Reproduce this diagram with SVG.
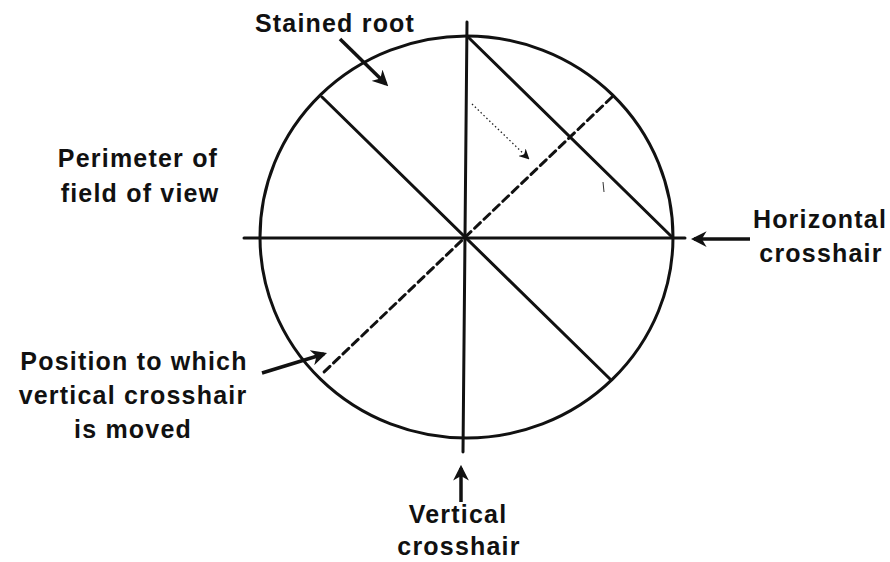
<svg xmlns="http://www.w3.org/2000/svg" width="890" height="562" viewBox="0 0 890 562">
<style>
.t{font-family:"Liberation Sans",Arial,sans-serif;font-weight:bold;font-size:25px;letter-spacing:1.2px;fill:#111;text-anchor:middle}
.ln{stroke:#111;stroke-width:3;fill:none;stroke-linecap:round}
.ar{stroke:#111;stroke-width:3.5;fill:none;marker-end:url(#ah)}
</style>
<defs>
<marker id="ah" viewBox="0 0 10 10" refX="8" refY="5" markerWidth="4.5" markerHeight="4.5" orient="auto" markerUnits="strokeWidth">
<path d="M0,0 L10,5 L0,10 L3,5 Z" fill="#111"/>
</marker>
<marker id="ah2" viewBox="0 0 10 10" refX="8" refY="5" markerWidth="8" markerHeight="8" orient="auto" markerUnits="strokeWidth">
<path d="M0,0 L10,5 L0,10 L3,5 Z" fill="#111"/>
</marker>
</defs>
<rect width="890" height="562" fill="#fff"/>
<g id="field">
<ellipse cx="466.5" cy="237" rx="206.5" ry="201" class="ln"/>
</g>
<g id="crosshairs">
<line x1="244" y1="238" x2="685" y2="238" class="ln" stroke-width="3.5"/>
<line x1="467" y1="22" x2="463" y2="452" class="ln"/>
</g>
<g id="root">
<line x1="467" y1="36" x2="672" y2="237" class="ln"/>
<line x1="322" y1="97" x2="610" y2="379" class="ln"/>
<line x1="612" y1="97" x2="323" y2="373" class="ln" stroke-dasharray="8,5" stroke-linecap="butt"/>
<line x1="603" y1="182" x2="604" y2="192" stroke="#333" stroke-width="1"/>
</g>
<g id="connectors">
<line x1="472" y1="104" x2="528" y2="158" stroke="#222" stroke-width="1.3" stroke-dasharray="1.5,2.5" marker-end="url(#ah2)"/>
<line x1="340" y1="39" x2="386" y2="84" class="ar"/>
<line x1="750" y1="239" x2="694" y2="239" class="ar"/>
<line x1="262" y1="373" x2="324" y2="354" class="ar"/>
<line x1="461" y1="502" x2="461" y2="468" class="ar"/>
</g>
<g id="labels">
<text class="t" x="335" y="32">Stained root</text>
<text class="t" x="138" y="167">Perimeter of</text>
<text class="t" x="140" y="202">field of view</text>
<text class="t" x="820" y="228">Horizontal</text>
<text class="t" x="821" y="262">crosshair</text>
<text class="t" x="134" y="370">Position to which</text>
<text class="t" x="133" y="404">vertical crosshair</text>
<text class="t" x="133" y="438">is moved</text>
<text class="t" x="458" y="523">Vertical</text>
<text class="t" x="459" y="555">crosshair</text>
</g>
</svg>
